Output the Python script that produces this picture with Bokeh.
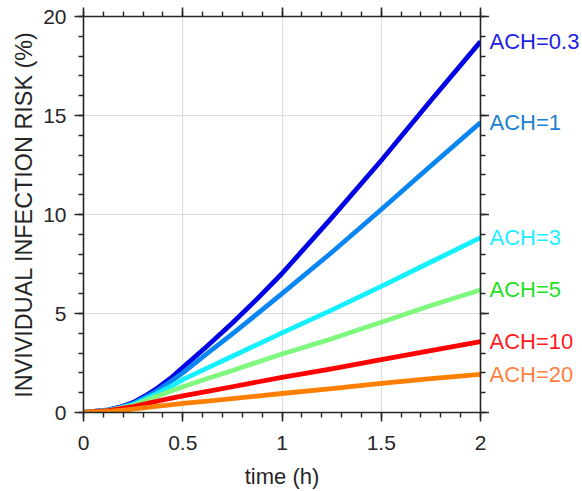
from bokeh.plotting import figure
from bokeh.layouts import row
from bokeh.models import (LinearAxis, FixedTicker, CustomJSTickFormatter, Range1d,
                          ColumnDataSource)
from bokeh.core.properties import value
from bokeh.embed import file_html
from bokeh.resources import INLINE

# ---- data ----
time_h = [0, 0.125, 0.1875, 0.25, 0.3125, 0.375, 0.4375, 0.5, 0.625, 0.75, 0.875,
          1.0, 1.25, 1.5, 1.75, 2.0]
risk_ach_03 = [0, 0.13, 0.28, 0.50, 0.85, 1.25, 1.72, 2.27, 3.37, 4.52, 5.74,
               7.02, 9.83, 12.73, 15.76, 18.73]
risk_ach_1 = [0, 0.12, 0.26, 0.45, 0.78, 1.12, 1.55, 2.00, 3.00, 3.97, 4.98,
              6.00, 8.08, 10.25, 12.46, 14.64]
risk_ach_3 = [0, 0.11, 0.24, 0.40, 0.68, 0.98, 1.30, 1.66, 2.25, 2.84, 3.43,
              4.02, 5.17, 6.37, 7.60, 8.83]
risk_ach_5 = [0, 0.10, 0.22, 0.35, 0.60, 0.83, 1.07, 1.30, 1.72, 2.12, 2.54,
              2.95, 3.72, 4.56, 5.40, 6.19]
risk_ach_10 = [0, 0.09, 0.19, 0.30, 0.44, 0.58, 0.71, 0.84, 1.07, 1.30, 1.54,
               1.77, 2.20, 2.67, 3.13, 3.58]
risk_ach_20 = [0, 0.06, 0.11, 0.17, 0.25, 0.32, 0.39, 0.46, 0.58, 0.70, 0.83,
               0.96, 1.21, 1.47, 1.71, 1.93]

series_labels = ["ACH=0.3", "ACH=1", "ACH=3", "ACH=5", "ACH=10", "ACH=20"]
series_values = [risk_ach_03, risk_ach_1, risk_ach_3, risk_ach_5, risk_ach_10, risk_ach_20]
line_colors = ["#0000E6", "#0A86F2", "#14F0FF", "#80F880", "#FF0000", "#FF8000"]
label_colors = ["#1E1EE6", "#2080D2", "#1EEEFF", "#22E022", "#FF1A1A", "#FF7F40"]

x_ticks = [0, 0.5, 1, 1.5, 2]
y_ticks = [0, 5, 10, 15, 20]
x_minor = [i / 10 for i in range(0, 21)]
y_minor = list(range(0, 21))

FONT = "Liberation Sans"
DARK = "#262626"

yr = Range1d(0, 20)

p = figure(width=489, height=491, output_backend="svg", toolbar_location=None,
           x_range=Range1d(0, 2), y_range=yr,
           x_axis_label="time (h)", y_axis_label="INVIVIDUAL INFECTION RISK (%)")
p.min_border_left = 83
p.min_border_right = 9
p.min_border_top = 16
p.min_border_bottom = 79
p.outline_line_color = None
p.background_fill_color = "white"
p.border_fill_color = "white"

fmt = CustomJSTickFormatter(code="return tick.toString();")
blank_fmt = CustomJSTickFormatter(code="return '';")

def style_axis(ax, ticks, minor, show_labels):
    ax.ticker = FixedTicker(ticks=ticks, minor_ticks=minor)
    ax.formatter = fmt if show_labels else blank_fmt
    ax.axis_line_color = DARK
    ax.axis_line_width = 1.6
    ax.major_tick_line_color = DARK
    ax.major_tick_line_width = 1.6
    ax.minor_tick_line_color = DARK
    ax.minor_tick_line_width = 1.4
    ax.major_tick_out = 9
    ax.major_tick_in = 0
    ax.minor_tick_out = 5
    ax.minor_tick_in = 0
    ax.major_label_text_font = FONT
    ax.major_label_text_font_size = "21px"
    ax.major_label_text_color = DARK
    ax.axis_label_text_font = FONT
    ax.axis_label_text_font_size = "22px"
    ax.axis_label_text_font_style = "normal"
    ax.axis_label_text_color = DARK
    if not show_labels:
        ax.major_label_standoff = 0

style_axis(p.xaxis[0], x_ticks, x_minor, True)
style_axis(p.yaxis[0], y_ticks, y_minor, True)
p.xaxis[0].major_label_standoff = 14
p.xaxis[0].axis_label_standoff = 11
p.yaxis[0].major_label_standoff = 8
p.yaxis[0].axis_label_standoff = 3
p.yaxis[0].axis_label_text_font_size = "23.4px"

top_ax = LinearAxis()
style_axis(top_ax, x_ticks, x_minor, False)
p.add_layout(top_ax, "above")
right_ax = LinearAxis()
style_axis(right_ax, y_ticks, y_minor, False)
p.add_layout(right_ax, "right")

p.xgrid.ticker = FixedTicker(ticks=x_ticks)
p.ygrid.ticker = FixedTicker(ticks=y_ticks)
p.xgrid.grid_line_color = "#dcdcdc"
p.ygrid.grid_line_color = "#dcdcdc"
p.xgrid.grid_line_width = 1.2
p.ygrid.grid_line_width = 1.2

for vals, col in zip(series_values, line_colors):
    p.line(time_h, vals, line_color=col, line_width=4.8, line_join="round")

# ---- side panel with the series labels (shares the y range) ----
side = figure(width=93, height=491, output_backend="svg", toolbar_location=None,
              x_range=Range1d(0, 1), y_range=yr,
              x_axis_location=None, y_axis_location=None)
side.min_border_left = 0
side.min_border_right = 0
side.min_border_top = 16
side.min_border_bottom = 79
side.outline_line_color = None
side.xgrid.visible = False
side.ygrid.visible = False
side.background_fill_color = "white"
side.border_fill_color = "white"

lab_src = ColumnDataSource(dict(
    x=[0] * len(series_values),
    y=[v[-1] for v in series_values],
    text=series_labels,
    color=label_colors,
))
side.text(x="x", y="y", text="text", source=lab_src, text_color="color",
          text_font=value(FONT), text_font_size=value("22px"),
          text_baseline="middle", text_align="left")

layout = row(p, side)
open("out.html", "w").write(file_html(layout, INLINE))
